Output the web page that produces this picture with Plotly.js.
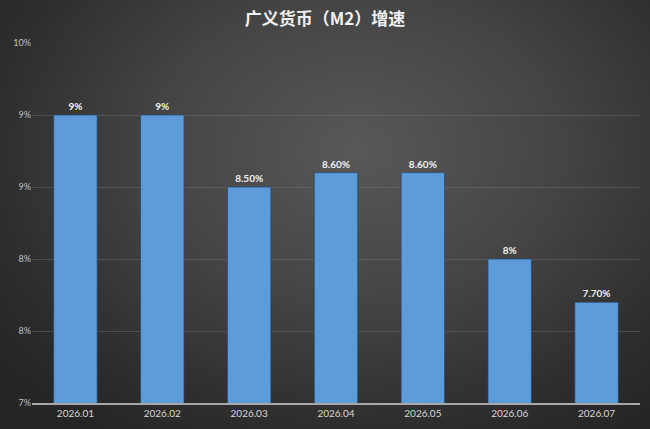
<!DOCTYPE html>
<html>
<head>
<meta charset="utf-8">
<script src="https://cdn.plot.ly/plotly-3.0.1.min.js"></script>
<style>
html,body{margin:0;padding:0;}
body{width:650px;height:429px;overflow:hidden;
background:radial-gradient(ellipse 70% 80% at 55% 35%, #585858 0%, #444444 45%, #2e2e2e 80%, #252525 100%);}
#chart{width:650px;height:429px;}
</style>
</head>
<body>
<div id="chart"></div>
<script>
var categories = ["2026.01","2026.02","2026.03","2026.04","2026.05","2026.06","2026.07"];
var values = [9.0, 9.0, 8.5, 8.6, 8.6, 8.0, 7.7];
var valueLabels = ["9%","9%","8.50%","8.60%","8.60%","8%","7.70%"];
var tickValues = [7.0, 7.5, 8.0, 8.5, 9.0, 9.5];
var tickLabels = ["7%","8%","8%","9%","9%","10%"];
var titleText = "广义货币（M2）增速";

var trace = {
  type: "bar",
  x: categories,
  y: values,
  text: valueLabels,
  textposition: "outside",
  texttemplate: "%{text}",
  cliponaxis: false,
  textfont: {family: "Lato, 'Open Sans', sans-serif", size: 10, color: "#f2f2f2", weight: "bold"},
  marker: {color: "#5c9cd9", line: {color: "rgba(40,70,110,0.7)", width: 1}},
  hoverinfo: "none"
};

var layout = {
  width: 650, height: 429,
  paper_bgcolor: "rgba(0,0,0,0)",
  plot_bgcolor: "rgba(0,0,0,0)",
  margin: {l: 32, r: 10, t: 43, b: 26},
  bargap: 0.5,
  showlegend: false,
  title: {text: titleText, x: 0.5, xanchor: "center", y: 0.955, yanchor: "middle",
    font: {family: "'Noto Sans CJK SC', sans-serif", size: 17, color: "#f0f0f0", weight: "bold"}},
  xaxis: {
    type: "category",
    showgrid: false,
    showline: true, linecolor: "#a8a8a8", linewidth: 1.5,
    ticks: "", ticklen: 0,
    tickfont: {family: "Lato, 'Open Sans', sans-serif", size: 10, color: "#d8d8d8"}
  },
  yaxis: {
    range: [7, 9.5],
    tickvals: tickValues,
    ticktext: tickLabels,
    showgrid: true, gridcolor: "rgba(120,120,120,0.4)", gridwidth: 1,
    zeroline: false, showline: false,
    ticks: "",
    tickfont: {family: "Lato, 'Open Sans', sans-serif", size: 9, color: "#c0c0c0"},
    fixedrange: true
  }
};

Plotly.newPlot("chart", [trace], layout, {displayModeBar: false, staticPlot: true});
</script>
</body>
</html>
